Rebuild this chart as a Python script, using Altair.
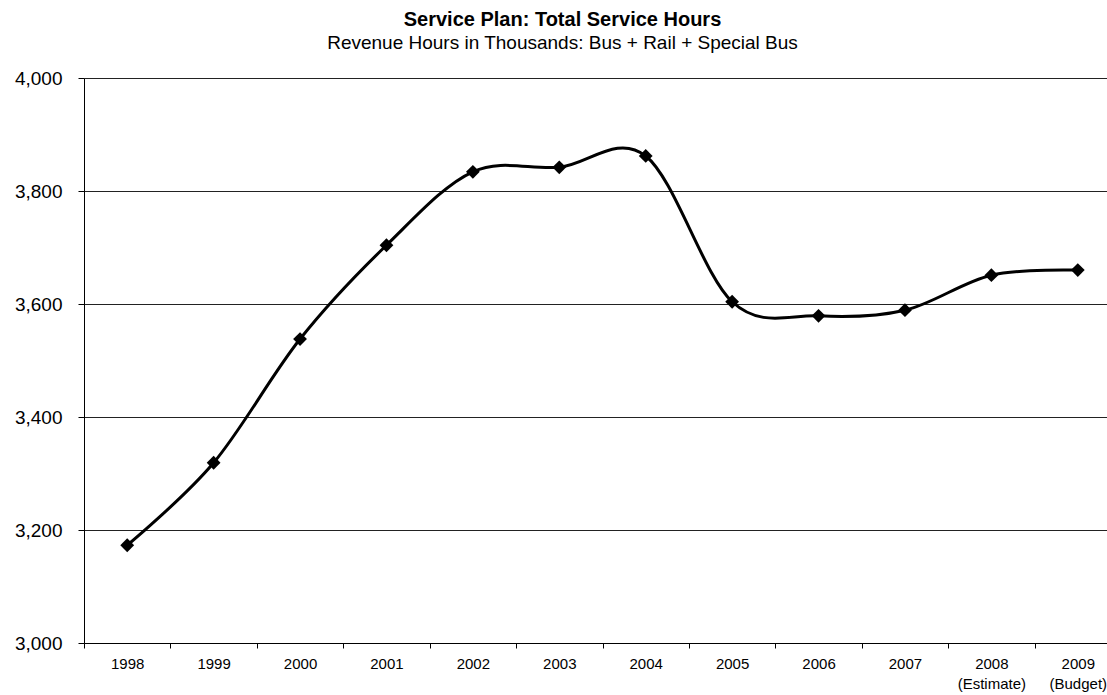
import altair as alt
import pandas as pd

years = ["1998", "1999", "2000", "2001", "2002", "2003", "2004", "2005", "2006", "2007", "2008", "2009"]
hours = [3173, 3319, 3538, 3704, 3834, 3842, 3862, 3604, 3579, 3589, 3651, 3660]
y_ticks = [3000, 3200, 3400, 3600, 3800, 4000]

df = pd.DataFrame({"year": years, "hours": hours})

FONT = "Liberation Sans"

x_enc = alt.X(
    "year:O",
    sort=years,
    title=None,
    scale=alt.Scale(type="band", range=[0, 1037], paddingInner=0, paddingOuter=0),
    axis=alt.Axis(
        labelAngle=0,
        tickBand="extent",
        tickSize=5,
        tickColor="#000",
        domainColor="#000",
        labelFont=FONT,
        labelFontSize=15,
        labelColor="#000",
        labelPadding=8,
        labelLineHeight=20,
        labelBaseline="top",
        labelBound=False,
        labelExpr="datum.value == '2008' ? ['2008', '(Estimate)'] : datum.value == '2009' ? ['2009', '(Budget)'] : datum.value",
        grid=False,
    ),
)
y_enc = alt.Y(
    "hours:Q",
    title=None,
    scale=alt.Scale(domain=[3000, 4000], nice=False, zero=False),
    axis=alt.Axis(
        values=y_ticks,
        format=",.0f",
        tickSize=6,
        tickColor="#000",
        domainColor="#000",
        labelFont=FONT,
        labelFontSize=19,
        labelColor="#000",
        labelPadding=16,
        grid=True,
        gridColor="#222",
        gridWidth=1,
        gridOpacity=1,
    ),
)

line = alt.Chart(df).mark_line(
    color="#000", strokeWidth=3, interpolate="cardinal"
).encode(x=x_enc, y=y_enc)

pts = alt.Chart(df).mark_point(
    shape="diamond", filled=True, color="#000", size=190, opacity=1
).encode(x=x_enc, y=y_enc)

chart = alt.layer(line, pts).properties(
    width=1023,
    height=565,
    padding={"left": 84, "top": 78, "right": 0, "bottom": 52},
    autosize=alt.AutoSizeParams(type="none"),
    title=alt.TitleParams(
        text="Service Plan: Total Service Hours",
        subtitle="Revenue Hours in Thousands: Bus + Rail + Special Bus",
        font=FONT,
        fontSize=20,
        fontWeight="bold",
        color="#000",
        subtitleFont=FONT,
        subtitleFontSize=19,
        subtitleColor="#000",
        subtitlePadding=4,
        anchor="middle",
        frame="group",
        dx=-33,
        offset=16,
    ),
).configure_view(stroke=None).configure(background="white")

chart.save("out.html", embed_options={"renderer": "svg", "actions": False})
